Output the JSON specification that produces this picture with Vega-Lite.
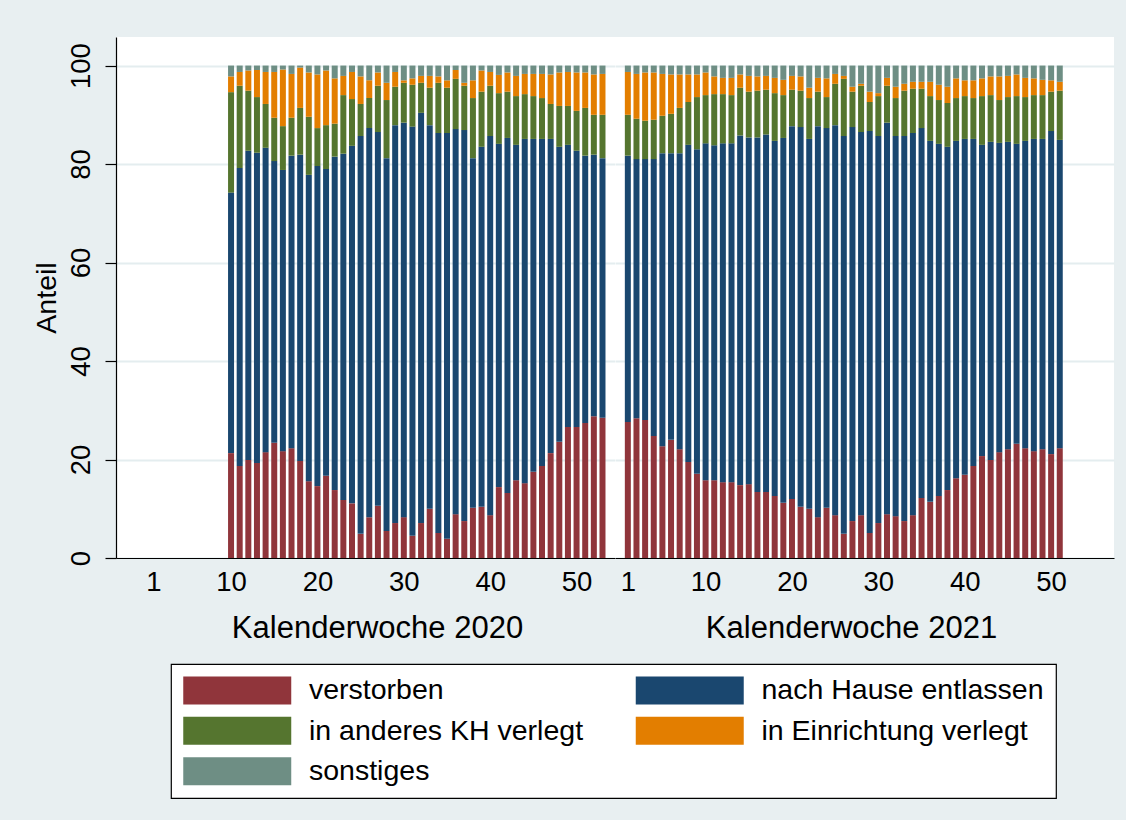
{
  "$schema": "https://vega.github.io/schema/vega-lite/v6.json",
  "background": "#e8eff1",
  "padding": {"left": 32, "top": 37, "right": 12, "bottom": 21},
  "autosize": {"type": "pad"},
  "datasets": {
    "kat": [
      {"k": "v", "label": "verstorben", "rank": 1},
      {"k": "h", "label": "nach Hause entlassen", "rank": 2},
      {"k": "kh", "label": "in anderes KH verlegt", "rank": 3},
      {"k": "e", "label": "in Einrichtung verlegt", "rank": 4},
      {"k": "s", "label": "sonstiges", "rank": 5}
    ]
  },
  "data": {"values": [
    {"j":2020,"w":10,"v":21.3,"h":52.9,"kh":20.4,"e":3.2,"s":2.2},
    {"j":2020,"w":11,"v":18.7,"h":60.5,"kh":16.7,"e":2.8,"s":1.3},
    {"j":2020,"w":12,"v":19.9,"h":62.8,"kh":12.2,"e":4.1,"s":1.0},
    {"j":2020,"w":13,"v":19.3,"h":63.0,"kh":11.3,"e":5.5,"s":0.9},
    {"j":2020,"w":14,"v":21.5,"h":61.8,"kh":8.9,"e":6.5,"s":1.3},
    {"j":2020,"w":15,"v":23.4,"h":57.2,"kh":8.8,"e":9.3,"s":1.3},
    {"j":2020,"w":16,"v":21.7,"h":57.1,"kh":8.9,"e":11.5,"s":0.8},
    {"j":2020,"w":17,"v":22.3,"h":59.4,"kh":7.7,"e":8.9,"s":1.7},
    {"j":2020,"w":18,"v":19.7,"h":62.2,"kh":9.5,"e":8.2,"s":0.4},
    {"j":2020,"w":19,"v":15.6,"h":62.2,"kh":11.8,"e":9.0,"s":1.4},
    {"j":2020,"w":20,"v":14.6,"h":65.0,"kh":7.7,"e":10.9,"s":1.8},
    {"j":2020,"w":21,"v":16.7,"h":62.3,"kh":8.9,"e":11.1,"s":1.0},
    {"j":2020,"w":22,"v":13.8,"h":67.7,"kh":6.7,"e":9.2,"s":2.6},
    {"j":2020,"w":23,"v":11.8,"h":70.3,"kh":11.9,"e":3.9,"s":2.1},
    {"j":2020,"w":24,"v":11.1,"h":72.6,"kh":9.5,"e":5.5,"s":1.3},
    {"j":2020,"w":25,"v":4.9,"h":80.8,"kh":6.5,"e":5.6,"s":2.2},
    {"j":2020,"w":26,"v":8.3,"h":79.0,"kh":6.1,"e":3.6,"s":3.0},
    {"j":2020,"w":27,"v":10.6,"h":75.9,"kh":9.4,"e":2.7,"s":1.4},
    {"j":2020,"w":28,"v":5.5,"h":75.7,"kh":11.8,"e":3.5,"s":3.5},
    {"j":2020,"w":29,"v":7.1,"h":80.8,"kh":7.8,"e":3.0,"s":1.3},
    {"j":2020,"w":30,"v":8.3,"h":80.1,"kh":8.1,"e":0.5,"s":3.0},
    {"j":2020,"w":31,"v":4.5,"h":83.1,"kh":8.5,"e":1.3,"s":2.6},
    {"j":2020,"w":32,"v":7.1,"h":83.3,"kh":6.1,"e":1.4,"s":2.1},
    {"j":2020,"w":33,"v":10.0,"h":77.9,"kh":7.6,"e":2.4,"s":2.1},
    {"j":2020,"w":34,"v":5.1,"h":81.2,"kh":10.2,"e":1.3,"s":2.2},
    {"j":2020,"w":35,"v":3.9,"h":82.4,"kh":9.2,"e":1.5,"s":3.0},
    {"j":2020,"w":36,"v":8.9,"h":78.2,"kh":10.2,"e":1.8,"s":0.9},
    {"j":2020,"w":37,"v":7.5,"h":79.4,"kh":9.0,"e":0.6,"s":3.5},
    {"j":2020,"w":38,"v":10.2,"h":71.0,"kh":12.2,"e":3.6,"s":3.0},
    {"j":2020,"w":39,"v":10.4,"h":73.1,"kh":11.2,"e":4.3,"s":1.0},
    {"j":2020,"w":40,"v":8.7,"h":77.0,"kh":10.2,"e":2.8,"s":1.3},
    {"j":2020,"w":41,"v":14.4,"h":69.7,"kh":10.3,"e":3.7,"s":1.9},
    {"j":2020,"w":42,"v":13.2,"h":72.1,"kh":9.4,"e":3.9,"s":1.4},
    {"j":2020,"w":43,"v":15.8,"h":68.1,"kh":9.9,"e":4.1,"s":2.1},
    {"j":2020,"w":44,"v":15.2,"h":69.9,"kh":9.1,"e":4.1,"s":1.7},
    {"j":2020,"w":45,"v":17.5,"h":67.6,"kh":8.7,"e":4.5,"s":1.7},
    {"j":2020,"w":46,"v":18.7,"h":66.4,"kh":8.3,"e":4.9,"s":1.7},
    {"j":2020,"w":47,"v":21.3,"h":63.8,"kh":7.1,"e":6.0,"s":1.8},
    {"j":2020,"w":48,"v":23.6,"h":59.9,"kh":8.3,"e":6.8,"s":1.4},
    {"j":2020,"w":49,"v":26.6,"h":57.3,"kh":7.9,"e":6.9,"s":1.3},
    {"j":2020,"w":50,"v":26.6,"h":56.1,"kh":8.1,"e":7.8,"s":1.4},
    {"j":2020,"w":51,"v":27.4,"h":54.3,"kh":9.7,"e":7.2,"s":1.4},
    {"j":2020,"w":52,"v":28.8,"h":53.1,"kh":8.1,"e":8.2,"s":1.8},
    {"j":2020,"w":53,"v":28.5,"h":52.7,"kh":8.8,"e":8.3,"s":1.7},
    {"j":2021,"w":1,"v":27.6,"h":54.1,"kh":8.3,"e":8.7,"s":1.3},
    {"j":2021,"w":2,"v":28.4,"h":52.6,"kh":8.2,"e":9.1,"s":1.7},
    {"j":2021,"w":3,"v":28.0,"h":53.0,"kh":7.8,"e":9.8,"s":1.4},
    {"j":2021,"w":4,"v":24.8,"h":56.2,"kh":8.0,"e":9.6,"s":1.4},
    {"j":2021,"w":5,"v":22.7,"h":59.5,"kh":7.6,"e":8.5,"s":1.7},
    {"j":2021,"w":6,"v":24.0,"h":58.2,"kh":8.0,"e":8.0,"s":1.8},
    {"j":2021,"w":7,"v":22.1,"h":60.1,"kh":9.2,"e":6.8,"s":1.8},
    {"j":2021,"w":8,"v":19.5,"h":64.4,"kh":8.7,"e":5.6,"s":1.8},
    {"j":2021,"w":9,"v":17.1,"h":65.9,"kh":10.6,"e":4.6,"s":1.8},
    {"j":2021,"w":10,"v":15.8,"h":68.4,"kh":9.8,"e":4.6,"s":1.4},
    {"j":2021,"w":11,"v":15.8,"h":68.0,"kh":10.4,"e":3.6,"s":2.2},
    {"j":2021,"w":12,"v":15.4,"h":68.8,"kh":10.0,"e":3.3,"s":2.5},
    {"j":2021,"w":13,"v":15.4,"h":68.8,"kh":9.8,"e":3.5,"s":2.5},
    {"j":2021,"w":14,"v":14.8,"h":71.0,"kh":9.7,"e":2.7,"s":1.8},
    {"j":2021,"w":15,"v":15.0,"h":70.4,"kh":9.3,"e":3.2,"s":2.1},
    {"j":2021,"w":16,"v":13.4,"h":72.0,"kh":9.5,"e":2.9,"s":2.2},
    {"j":2021,"w":17,"v":13.4,"h":72.6,"kh":9.1,"e":2.8,"s":2.1},
    {"j":2021,"w":18,"v":12.6,"h":72.1,"kh":9.7,"e":3.1,"s":2.5},
    {"j":2021,"w":19,"v":11.2,"h":74.1,"kh":8.7,"e":3.1,"s":2.9},
    {"j":2021,"w":20,"v":12.0,"h":75.7,"kh":7.4,"e":2.8,"s":2.1},
    {"j":2021,"w":21,"v":10.4,"h":77.1,"kh":7.4,"e":2.9,"s":2.2},
    {"j":2021,"w":22,"v":10.0,"h":75.1,"kh":8.3,"e":2.1,"s":4.5},
    {"j":2021,"w":23,"v":8.3,"h":79.4,"kh":7.0,"e":2.8,"s":2.5},
    {"j":2021,"w":24,"v":10.2,"h":77.1,"kh":6.3,"e":3.8,"s":2.6},
    {"j":2021,"w":25,"v":8.7,"h":79.2,"kh":8.4,"e":2.0,"s":1.7},
    {"j":2021,"w":26,"v":4.9,"h":80.8,"kh":11.6,"e":0.6,"s":2.1},
    {"j":2021,"w":27,"v":7.5,"h":80.0,"kh":7.2,"e":1.0,"s":4.3},
    {"j":2021,"w":28,"v":8.7,"h":77.8,"kh":9.4,"e":0.4,"s":3.7},
    {"j":2021,"w":29,"v":5.1,"h":81.6,"kh":5.9,"e":2.1,"s":5.3},
    {"j":2021,"w":30,"v":7.1,"h":78.6,"kh":8.1,"e":0.6,"s":5.6},
    {"j":2021,"w":31,"v":8.9,"h":79.5,"kh":7.5,"e":1.6,"s":2.5},
    {"j":2021,"w":32,"v":8.5,"h":77.2,"kh":7.7,"e":2.3,"s":4.3},
    {"j":2021,"w":33,"v":7.5,"h":78.2,"kh":9.2,"e":1.4,"s":3.7},
    {"j":2021,"w":34,"v":8.7,"h":77.6,"kh":9.0,"e":1.4,"s":3.3},
    {"j":2021,"w":35,"v":12.2,"h":75.1,"kh":8.0,"e":1.4,"s":3.3},
    {"j":2021,"w":36,"v":11.4,"h":73.3,"kh":9.1,"e":2.9,"s":3.3},
    {"j":2021,"w":37,"v":12.6,"h":71.5,"kh":8.9,"e":3.1,"s":3.9},
    {"j":2021,"w":38,"v":13.8,"h":69.7,"kh":8.9,"e":3.3,"s":4.3},
    {"j":2021,"w":39,"v":16.2,"h":68.5,"kh":8.7,"e":4.0,"s":2.6},
    {"j":2021,"w":40,"v":16.9,"h":68.2,"kh":8.7,"e":3.2,"s":3.0},
    {"j":2021,"w":41,"v":18.7,"h":66.4,"kh":8.3,"e":3.6,"s":3.0},
    {"j":2021,"w":42,"v":20.7,"h":63.2,"kh":9.9,"e":3.6,"s":2.6},
    {"j":2021,"w":43,"v":19.9,"h":64.6,"kh":9.5,"e":3.8,"s":2.2},
    {"j":2021,"w":44,"v":21.5,"h":62.8,"kh":8.7,"e":4.8,"s":2.2},
    {"j":2021,"w":45,"v":22.1,"h":62.4,"kh":9.1,"e":4.3,"s":2.1},
    {"j":2021,"w":46,"v":23.2,"h":60.9,"kh":9.7,"e":4.4,"s":1.8},
    {"j":2021,"w":47,"v":22.3,"h":62.4,"kh":8.9,"e":3.9,"s":2.5},
    {"j":2021,"w":48,"v":21.7,"h":63.4,"kh":8.9,"e":3.4,"s":2.6},
    {"j":2021,"w":49,"v":22.1,"h":63.0,"kh":8.9,"e":3.1,"s":2.9},
    {"j":2021,"w":50,"v":21.1,"h":65.6,"kh":8.0,"e":2.3,"s":3.0},
    {"j":2021,"w":51,"v":22.3,"h":62.6,"kh":10.0,"e":1.8,"s":3.3}
  ]},
  "transform": [
    {"fold": ["v", "h", "kh", "e", "s"], "as": ["k", "anteil"]},
    {"lookup": "k", "from": {"data": {"name": "kat"}, "key": "k", "fields": ["label", "rank"]}}
  ],
  "spacing": 0,
  "bounds": "flush",
  "hconcat": [
    {
      "width": 499,
      "height": 521,
      "transform": [{"filter": {"field": "j", "equal": 2020}}],
      "mark": {"type": "bar", "width": 6},
      "encoding": {
        "x": {
          "field": "w", "type": "quantitative",
          "scale": {"domain": [-2.74, 53.87], "nice": false, "zero": false},
          "axis": {
            "values": [1, 10, 20, 30, 40, 50], "format": "d", "ticks": false, "grid": false,
            "labelFontSize": 27.5, "labelPadding": 10, "labelFlush": false, "labelOverlap": false,
            "title": "Kalenderwoche 2020", "titleFontSize": 31, "titleX": 261, "titlePadding": 18
          }
        },
        "y": {
          "field": "anteil", "type": "quantitative", "stack": "zero",
          "scale": {"domain": [0, 105.8], "nice": false},
          "axis": {
            "values": [0, 20, 40, 60, 80, 100], "title": "Anteil", "titleFontSize": 28.5,
            "labelFontSize": 27.5, "labelAngle": 270, "labelAlign": "center", "labelBaseline": "bottom",
            "labelPadding": 10, "tickSize": 11, "grid": true, "titlePadding": 6
          }
        },
        "color": {
          "field": "label", "type": "nominal",
          "scale": {
            "domain": ["verstorben", "nach Hause entlassen", "in anderes KH verlegt", "in Einrichtung verlegt", "sonstiges"],
            "range": ["#90353b", "#1a476f", "#55752f", "#e37e00", "#6e8e84"]
          },
          "legend": {"orient": "none", "legendX": 55, "legendY": 627, "columns": 2, "direction": "horizontal", "title": null}
        },
        "order": {"field": "rank", "type": "quantitative", "sort": "ascending"}
      }
    },
    {
      "width": 499,
      "height": 521,
      "transform": [{"filter": {"field": "j", "equal": 2021}}],
      "mark": {"type": "bar", "width": 6},
      "encoding": {
        "x": {
          "field": "w", "type": "quantitative",
          "scale": {"domain": [0.092, 56.7], "nice": false, "zero": false},
          "axis": {
            "values": [1, 10, 20, 30, 40, 50], "format": "d", "ticks": false, "grid": false,
            "labelFontSize": 27.5, "labelPadding": 10, "labelFlush": false, "labelOverlap": false,
            "title": "Kalenderwoche 2021", "titleFontSize": 31, "titleX": 236, "titlePadding": 18
          }
        },
        "y": {
          "field": "anteil", "type": "quantitative", "stack": "zero",
          "scale": {"domain": [0, 105.8], "nice": false},
          "axis": {
            "values": [0, 20, 40, 60, 80, 100], "title": null, "labels": false, "ticks": false,
            "domain": false, "grid": true
          }
        },
        "color": {
          "field": "label", "type": "nominal",
          "scale": {
            "domain": ["verstorben", "nach Hause entlassen", "in anderes KH verlegt", "in Einrichtung verlegt", "sonstiges"],
            "range": ["#90353b", "#1a476f", "#55752f", "#e37e00", "#6e8e84"]
          },
          "legend": {"orient": "none", "legendX": 55, "legendY": 627, "columns": 2, "direction": "horizontal", "title": null}
        },
        "order": {"field": "rank", "type": "quantitative", "sort": "ascending"}
      }
    }
  ],
  "resolve": {"scale": {"x": "independent", "y": "shared", "color": "shared"}},
  "config": {
    "font": "Liberation Sans",
    "view": {"fill": "white", "stroke": null},
    "axis": {
      "domainColor": "#000", "domainWidth": 1.2, "tickColor": "#000", "tickWidth": 1.2,
      "labelColor": "#000", "titleColor": "#000", "titleFontWeight": "normal",
      "gridColor": "#e4edef", "gridWidth": 2
    },
    "legend": {
      "symbolType": "M-1,-1H6.714V1H-1Z", "symbolSize": 784, "symbolStrokeWidth": 0,
      "symbolOpacity": 1, "labelFontSize": 28.5, "labelColor": "#000", "labelOffset": 97.5,
      "labelLimit": 0, "columnPadding": 51.5, "rowPadding": 11.5, "padding": 12,
      "strokeColor": "#000", "strokeWidth": 1.2, "fillColor": "#fff"
    }
  }
}
